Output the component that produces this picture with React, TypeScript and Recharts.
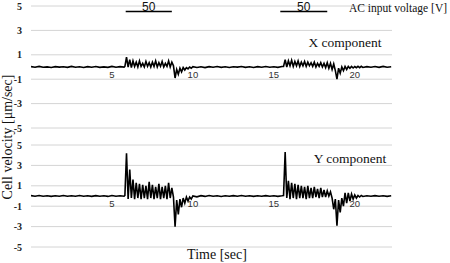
import React from 'react';
import { LineChart, Line, XAxis, YAxis, CartesianGrid, ReferenceDot } from 'recharts';

const timeSec = [
  0, 0.25, 0.5, 0.75, 1, 1.25, 1.5, 1.75, 2, 2.25, 2.5, 2.75, 3, 3.25, 3.5, 3.75, 4, 4.25, 4.5, 4.75, 5, 5.25, 5.5, 5.75,
  5.8, 5.9, 6.0, 6.1, 6.2, 6.3, 6.4, 6.5, 6.6, 6.7, 6.8, 6.9, 7.0, 7.1, 7.2, 7.3, 7.4, 7.5, 7.6, 7.7, 7.8, 7.9,
  8.0, 8.1, 8.2, 8.3, 8.4, 8.5, 8.6, 8.7, 8.8, 8.9, 9.0, 9.1, 9.2, 9.3, 9.4, 9.5, 9.6, 9.7, 9.8, 9.9, 10.0,
  10.25, 10.5, 10.75, 11, 11.25, 11.5, 11.75, 12, 12.25, 12.5, 12.75, 13, 13.25, 13.5, 13.75, 14, 14.25, 14.5, 14.75, 15, 15.25, 15.5,
  15.6, 15.7, 15.8, 15.9, 16.0, 16.1, 16.2, 16.3, 16.4, 16.5, 16.6, 16.7, 16.8, 16.9, 17.0, 17.1, 17.2, 17.3, 17.4, 17.5,
  17.6, 17.7, 17.8, 17.9, 18.0, 18.1, 18.2, 18.3, 18.4, 18.5, 18.6, 18.7, 18.8, 18.9, 19.0, 19.1, 19.2, 19.3, 19.4, 19.5,
  19.6, 19.7, 19.8, 19.9, 20.0, 20.1, 20.2, 20.3, 20.4, 20.5,
  20.75, 21, 21.25, 21.5, 21.75, 22, 22.25,
];

const xComponent = [
  0.03, -0.02, 0.05, -0.02, 0.01, -0.04, 0.03, -0.01, 0.02, -0.03, 0.05, -0.02, 0.02, -0.04, 0.03, -0.02, 0.04, -0.03, 0.01, -0.03, 0.05, -0.02, 0.03, -0.01,
  0.05, 0.8, 0.0, 0.6, -0.05, 0.5, 0.05, 0.4, 0.0, 0.5, 0.05, 0.3, 0.0, 0.45, 0.05, 0.35, 0.0, 0.4, 0.05, 0.5, 0.0, 0.35,
  0.05, 0.45, 0.0, 0.3, 0.05, 0.5, 0.0, 0.4, 0.1, -0.9, -0.2, -0.6, -0.1, -0.4, -0.05, -0.25, -0.05, -0.15, 0.0, -0.1, 0.03,
  -0.04, 0.02, -0.05, 0.03, -0.02, 0.04, -0.03, 0.02, -0.04, 0.02, -0.01, 0.04, -0.03, 0.02, -0.04, 0.03, -0.02, 0.04, -0.02, 0.02, -0.03, 0.04,
  0.05, 0.6, 0.0, 0.5, 0.1, 0.55, 0.05, 0.45, 0.1, 0.5, 0.05, 0.4, 0.1, 0.45, 0.05, 0.4, 0.1, 0.35, 0.05, 0.4,
  0.0, 0.3, 0.05, 0.35, 0.0, 0.3, -0.05, 0.35, -0.1, 0.3, -0.2, 0.25, -0.3, -1.0, -0.1, -0.5, 0.0, -0.3, 0.05, -0.2,
  0.05, -0.1, 0.05, -0.08, 0.04, -0.06, 0.05, -0.05, 0.06, -0.04,
  0.03, -0.02, 0.04, -0.03, 0.05, -0.02, 0.02,
];

const yComponent = [
  0.04, -0.02, 0.05, -0.03, 0.02, -0.04, 0.03, -0.02, 0.05, -0.03, 0.02, -0.03, 0.05, -0.02, 0.03, -0.04, 0.04, -0.02, 0.02, -0.04, 0.05, -0.03, 0.02, -0.02,
  0.05, 4.2, -0.3, 2.6, -0.2, 1.6, -0.3, 1.3, -0.2, 1.2, -0.3, 1.1, -0.2, 1.0, -0.3, 1.4, -0.2, 1.1, -0.3, 0.9, -0.2, 1.2,
  -0.3, 0.9, -0.2, 1.0, -0.3, 1.3, -0.2, 0.8, -0.1, -3.0, -0.4, -1.8, -0.3, -1.1, -0.2, -0.7, -0.1, -0.5, -0.1, -0.3, 0.0,
  -0.08, 0.03, -0.04, 0.05, -0.02, 0.03, -0.05, 0.02, -0.03, 0.04, -0.02, 0.05, -0.03, 0.02, -0.04, 0.03, -0.02, 0.04, -0.02, 0.03, -0.04, 0.02,
  0.05, 4.3, -0.2, 1.5, -0.3, 1.3, -0.2, 1.2, -0.3, 1.1, -0.2, 1.0, -0.2, 0.9, -0.3, 1.0, -0.2, 0.8, -0.2, 0.9,
  -0.1, 0.7, -0.2, 0.8, -0.1, 0.6, -0.1, 0.5, 0.0, 0.4, -0.2, -1.3, -0.3, -2.9, -0.4, -1.6, -0.2, -1.0, 0.3, -0.7,
  0.3, -0.5, 0.2, -0.3, 0.1, -0.2, 0.05, -0.1, 0.05, -0.05,
  0.03, -0.03, 0.04, -0.02, 0.03, -0.04, 0.02,
];

const xTicks = [5, 10, 15, 20];
const yTicks = [-5, -3, -1, 1, 3, 5];
const pulseStart = [5.85, 15.4];
const pulseEnd = [8.7, 18.3];
const pulseVoltage = ['50', '50'];
const pulseLevel = 4.55; // drawn level of the voltage trace in the X panel

const rows = timeSec.map((t, i) => ({ t, x: xComponent[i], y: yComponent[i] }));
const pulses = pulseStart.map((s, i) => ({
  data: [{ t: s, v: pulseLevel }, { t: pulseEnd[i], v: pulseLevel }],
  mid: (s + pulseEnd[i]) / 2,
  label: pulseVoltage[i],
}));

const SERIF = '"Liberation Serif", "Times New Roman", serif';
const SANS = '"Liberation Sans", Arial, sans-serif';
const X_DOMAIN: [number, number] = [0, 22.3];

function Panel({ dataKey, height, margin, withPulses }: { dataKey: 'x' | 'y'; height: number; margin: any; withPulses?: boolean }) {
  return (
    <LineChart width={450} height={height} margin={margin}>
      <CartesianGrid horizontal vertical={false} stroke="#d4d4d4" strokeWidth={1} />
      <XAxis type="number" dataKey="t" domain={X_DOMAIN} allowDataOverflow hide />
      <YAxis
        type="number"
        domain={[-5, 5]}
        ticks={yTicks}
        width={31}
        axisLine={false}
        tickLine={false}
        tickSize={0}
        tickMargin={9}
        interval={0}
        tick={{ fontSize: 10, fill: '#222', fontFamily: SERIF, fontWeight: 600 }}
      />
      <Line data={rows} dataKey={dataKey} type="linear" stroke="#000" strokeWidth={1.6} dot={false} isAnimationActive={false} />
      {withPulses &&
        pulses.map((p, i) => (
          <Line key={'p' + i} data={p.data} dataKey="v" type="linear" stroke="#000" strokeWidth={1.5} dot={false} isAnimationActive={false} />
        ))}
      {withPulses &&
        pulses.map((p, i) => (
          <ReferenceDot
            key={'pl' + i}
            x={p.mid}
            y={pulseLevel}
            r={0}
            fill="none"
            stroke="none"
            label={{ value: p.label, position: 'top', offset: 1, fontSize: 12, fill: '#111', fontFamily: SANS }}
          />
        ))}
      {xTicks.map((t) => (
        <ReferenceDot
          key={'xt' + t}
          x={t}
          y={0}
          r={0}
          fill="none"
          stroke="none"
          label={{ value: String(t), position: 'bottom', offset: 4, fontSize: 9.5, fill: '#333', fontFamily: SANS }}
        />
      ))}
    </LineChart>
  );
}

export default function App() {
  return (
    <div style={{ position: 'absolute', left: 0, top: 0, width: 450, height: 263, background: '#fff', overflow: 'hidden' }}>
      <div style={{ position: 'absolute', left: 0, top: 0 }}>
        <Panel dataKey="x" height={135} margin={{ top: 6, right: 58, bottom: 7, left: 0 }} withPulses />
      </div>
      <div style={{ position: 'absolute', left: 0, top: 135 }}>
        <Panel dataKey="y" height={128} margin={{ top: 10, right: 58, bottom: 16, left: 0 }} />
      </div>
      <svg width={450} height={263} style={{ position: 'absolute', left: 0, top: 0, pointerEvents: 'none' }}>
        <text x={349} y={12} fontSize={11.5} fontFamily={SERIF} fill="#111">AC input voltage [V]</text>
        <text x={345} y={47} fontSize={13.5} fontFamily={SERIF} fill="#111" textAnchor="middle">X component</text>
        <text x={350} y={163} fontSize={13.5} fontFamily={SERIF} fill="#111" textAnchor="middle">Y component</text>
        <text x={217} y={259} fontSize={14} fontFamily={SERIF} fill="#111" textAnchor="middle">Time [sec]</text>
        <text
          transform="translate(12,137) rotate(-90)"
          fontSize={14}
          fontFamily={SERIF}
          fill="#111"
          textAnchor="middle"
        >
          Cell velocity [μm/sec]
        </text>
      </svg>
    </div>
  );
}
